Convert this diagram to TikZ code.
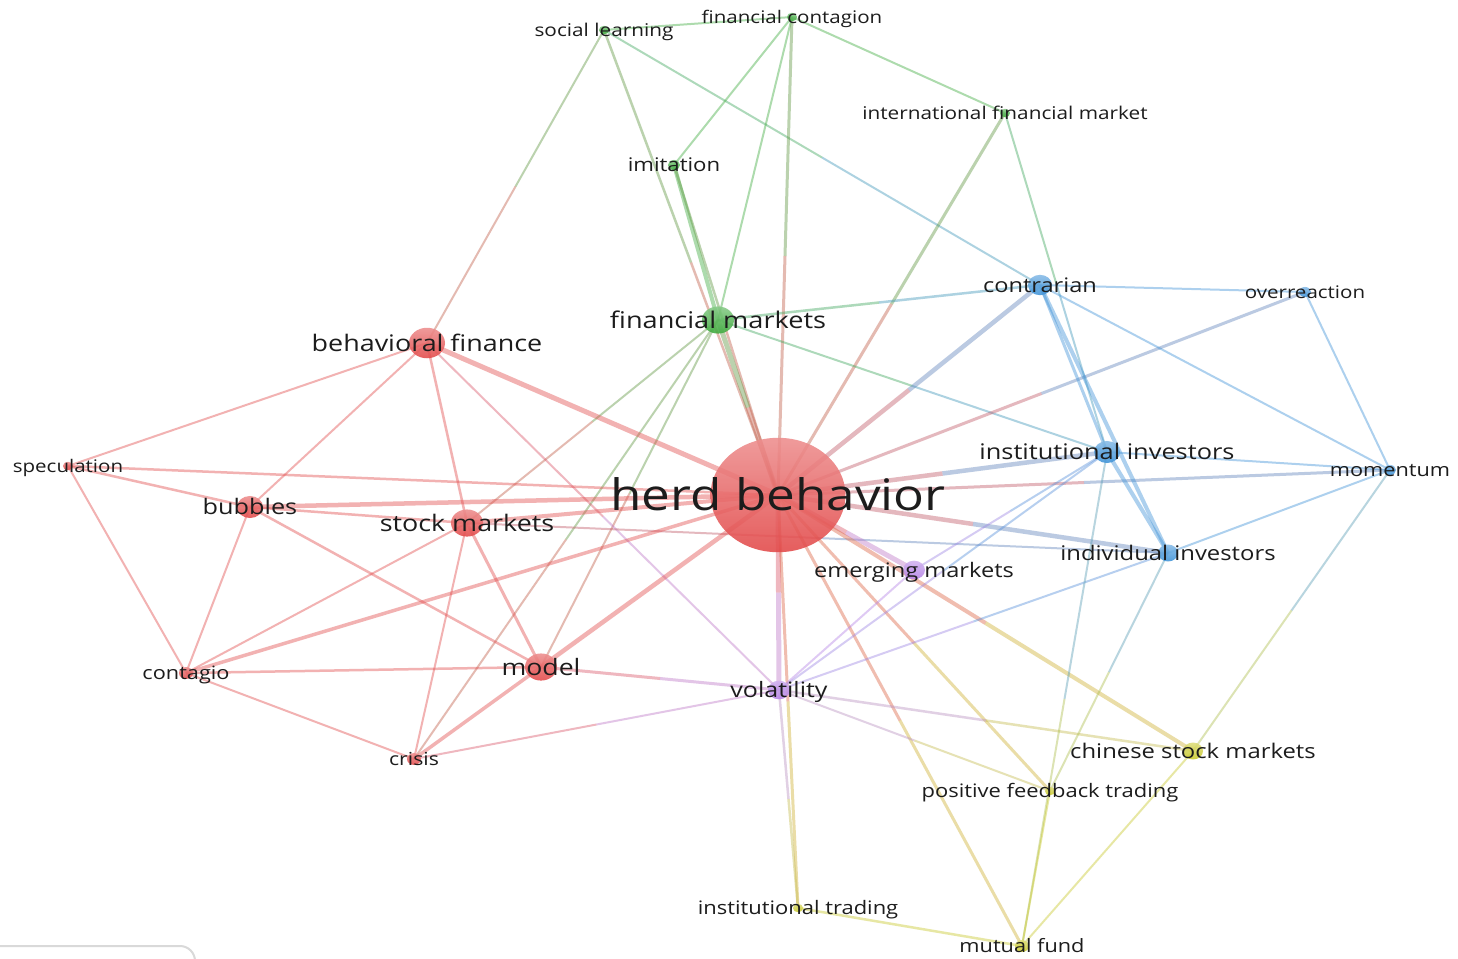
\documentclass[tikz,border=0pt]{standalone}
\usepackage{fontspec}
\usetikzlibrary{calc}
\setmainfont{Open Sans}[FakeStretch=1.18]
\definecolor{cr}{RGB}{226,72,72}
\definecolor{cg}{RGB}{60,170,60}
\definecolor{cb}{RGB}{60,145,215}
\definecolor{cp}{RGB}{180,130,230}
\definecolor{cy}{RGB}{200,200,40}
\definecolor{txt}{RGB}{28,28,28}
\newcommand\lk[5]{%
  \def\ca{#3}\def\cbb{#4}%
  \ifx\ca\cbb
    \draw[edge, line width={#5*0.5pt}, draw=#3] (#1) -- (#2);
  \else
    \draw[edge, line width={#5*0.5pt}, draw=#3!80!#4] (#1) -- ($(#1)!0.5!(#2)$);
    \draw[edge, line width={#5*0.5pt}, draw=#4!80!#3] ($(#1)!0.5!(#2)$) -- (#2);
  \fi}
\newcommand\blob[3]{\shade[top color=#2!62!white, bottom color=#2, fill opacity=0.88] (#1) ellipse [x radius={#3*0.5pt}, y radius={#3*0.5pt/1.18}];}
\newcommand\lbl[3]{\node[lab, font=\fontsize{#3}{#3}\selectfont, yshift={-0.36pt*#3}] (#1-t) at (#1) {#2};}
\tikzset{
  edge/.style={draw opacity=0.42, line cap=butt},
  lab/.style={anchor=base, inner sep=0pt, text=txt}
}
\begin{document}
\begin{tikzpicture}[x=0.5pt, y=-0.5pt]
\useasboundingbox (0,0) rectangle (1458,959);
\fill[white] (0,0) rectangle (1458,959);
% positions
\coordinate (hb) at (778,495);
\coordinate (fm) at (718,320);
\coordinate (bf) at (427,343);
\coordinate (sm) at (467,523);
\coordinate (bu) at (250,507);
\coordinate (mo) at (541,667);
\coordinate (sp) at (68,466);
\coordinate (co) at (186,673);
\coordinate (cr) at (414,759);
\coordinate (vo) at (779,690);
\coordinate (em) at (914,570);
\coordinate (ct) at (1040,285);
\coordinate (ov) at (1305,292);
\coordinate (ii) at (1107,452);
\coordinate (mom) at (1390,470);
\coordinate (iv) at (1168,553);
\coordinate (csm) at (1193,751);
\coordinate (pft) at (1050,791);
\coordinate (it) at (798,908);
\coordinate (mf) at (1022,946);
\coordinate (sl) at (604,30);
\coordinate (fc) at (792,17);
\coordinate (ifm) at (1005,113);
\coordinate (im) at (674,165);
% corner artifact
\coordinate (ua) at (0,946);
\draw[black!15, line width=1pt] (ua) -- (180,946) arc[start angle=-90, end angle=0, radius=15];
% edges
\lk{sl}{fc}{cg}{cg}{2}
\lk{sl}{bf}{cg}{cr}{2}
\lk{sl}{hb}{cg}{cr}{2.5}
\lk{sl}{ct}{cg}{cb}{2}
\lk{fc}{im}{cg}{cg}{2}
\lk{fc}{fm}{cg}{cg}{2}
\lk{fc}{hb}{cg}{cr}{3}
\lk{fc}{ifm}{cg}{cg}{2}
\lk{im}{fm}{cg}{cg}{4}
\lk{im}{hb}{cg}{cr}{2.5}
\lk{ifm}{hb}{cg}{cr}{3}
\lk{ifm}{ii}{cg}{cb}{2}
\lk{fm}{ct}{cg}{cb}{2.5}
\lk{fm}{ii}{cg}{cb}{2}
\lk{fm}{hb}{cg}{cr}{5}
\lk{fm}{sm}{cg}{cr}{2}
\lk{fm}{mo}{cg}{cr}{2}
\lk{fm}{cr}{cg}{cr}{2}
\lk{bf}{sp}{cr}{cr}{2}
\lk{bf}{bu}{cr}{cr}{2}
\lk{bf}{sm}{cr}{cr}{2.5}
\lk{bf}{hb}{cr}{cr}{5}
\lk{bf}{vo}{cr}{cp}{2}
\lk{sp}{hb}{cr}{cr}{2.5}
\lk{sp}{bu}{cr}{cr}{2.5}
\lk{sp}{co}{cr}{cr}{2}
\lk{bu}{hb}{cr}{cr}{4.5}
\lk{bu}{sm}{cr}{cr}{2.5}
\lk{bu}{mo}{cr}{cr}{2.5}
\lk{bu}{co}{cr}{cr}{2}
\lk{sm}{hb}{cr}{cr}{4}
\lk{sm}{co}{cr}{cr}{2}
\lk{sm}{cr}{cr}{cr}{2}
\lk{sm}{mo}{cr}{cr}{3}
\lk{sm}{iv}{cr}{cb}{2}
\lk{co}{hb}{cr}{cr}{3.5}
\lk{co}{mo}{cr}{cr}{2.5}
\lk{co}{cr}{cr}{cr}{2}
\lk{mo}{hb}{cr}{cr}{4.5}
\lk{mo}{vo}{cr}{cp}{3}
\lk{mo}{cr}{cr}{cr}{3.5}
\lk{cr}{vo}{cr}{cp}{2}
\lk{hb}{ct}{cr}{cb}{4.5}
\lk{hb}{ov}{cr}{cb}{3}
\lk{hb}{ii}{cr}{cb}{4.5}
\lk{hb}{mom}{cr}{cb}{3}
\lk{hb}{iv}{cr}{cb}{4.5}
\lk{hb}{em}{cr}{cp}{5}
\lk{hb}{vo}{cr}{cp}{5}
\lk{hb}{csm}{cr}{cy}{4}
\lk{hb}{pft}{cr}{cy}{3}
\lk{hb}{mf}{cr}{cy}{3}
\lk{hb}{it}{cr}{cy}{3}
\lk{vo}{em}{cp}{cp}{2}
\lk{vo}{ii}{cp}{cb}{2}
\lk{vo}{iv}{cp}{cb}{2}
\lk{vo}{csm}{cp}{cy}{2.5}
\lk{vo}{pft}{cp}{cy}{2}
\lk{vo}{it}{cp}{cy}{2.5}
\lk{em}{ii}{cp}{cb}{2}
\lk{ct}{ov}{cb}{cb}{2}
\lk{ct}{ii}{cb}{cb}{3}
\lk{ct}{iv}{cb}{cb}{4}
\lk{ct}{mom}{cb}{cb}{2}
\lk{ov}{mom}{cb}{cb}{2}
\lk{ii}{mom}{cb}{cb}{2}
\lk{ii}{iv}{cb}{cb}{4}
\lk{ii}{mf}{cb}{cy}{2}
\lk{iv}{mom}{cb}{cb}{2}
\lk{iv}{pft}{cb}{cy}{2}
\lk{mom}{csm}{cb}{cy}{2}
\lk{csm}{mf}{cy}{cy}{2}
\lk{pft}{mf}{cy}{cy}{2}
\lk{it}{mf}{cy}{cy}{2.5}
% circles
\blob{hb}{cr}{67.5}
\blob{fm}{cg}{16}
\blob{bf}{cr}{18}
\blob{sm}{cr}{16}
\blob{bu}{cr}{13}
\blob{mo}{cr}{16}
\blob{sp}{cr}{5}
\blob{co}{cr}{7}
\blob{cr}{cr}{7}
\blob{vo}{cp}{11}
\blob{em}{cp}{11}
\blob{ct}{cb}{12}
\blob{ov}{cb}{6}
\blob{ii}{cb}{13}
\blob{mom}{cb}{6}
\blob{iv}{cb}{10}
\blob{csm}{cy}{10}
\blob{pft}{cy}{5}
\blob{it}{cy}{5}
\blob{mf}{cy}{7}
\blob{sl}{cg}{5}
\blob{fc}{cg}{5}
\blob{ifm}{cg}{5}
\blob{im}{cg}{6}
% labels
\lbl{hb}{herd behavior}{21.7}
\lbl{fm}{financial markets}{11.5}
\lbl{bf}{behavioral finance}{11.4}
\lbl{sm}{stock markets}{11.4}
\lbl{bu}{bubbles}{10.7}
\lbl{mo}{model}{11.3}
\lbl{sp}{speculation}{8.7}
\lbl{co}{contagio}{9.2}
\lbl{cr}{crisis}{9.0}
\lbl{vo}{volatility}{10.6}
\lbl{em}{emerging markets}{10.0}
\lbl{ct}{contrarian}{10.0}
\lbl{ov}{overreaction}{8.7}
\lbl{ii}{institutional investors}{10.75}
\lbl{mom}{momentum}{9.2}
\lbl{iv}{individual investors}{10.1}
\lbl{csm}{chinese stock markets}{10.1}
\lbl{pft}{positive feedback trading}{9.3}
\lbl{it}{institutional trading}{9.3}
\lbl{mf}{mutual fund}{9.2}
\lbl{sl}{social learning}{8.8}
\lbl{fc}{financial contagion}{8.7}
\lbl{ifm}{international financial market}{8.8}
\lbl{im}{imitation}{9.4}
\end{tikzpicture}
\end{document}
